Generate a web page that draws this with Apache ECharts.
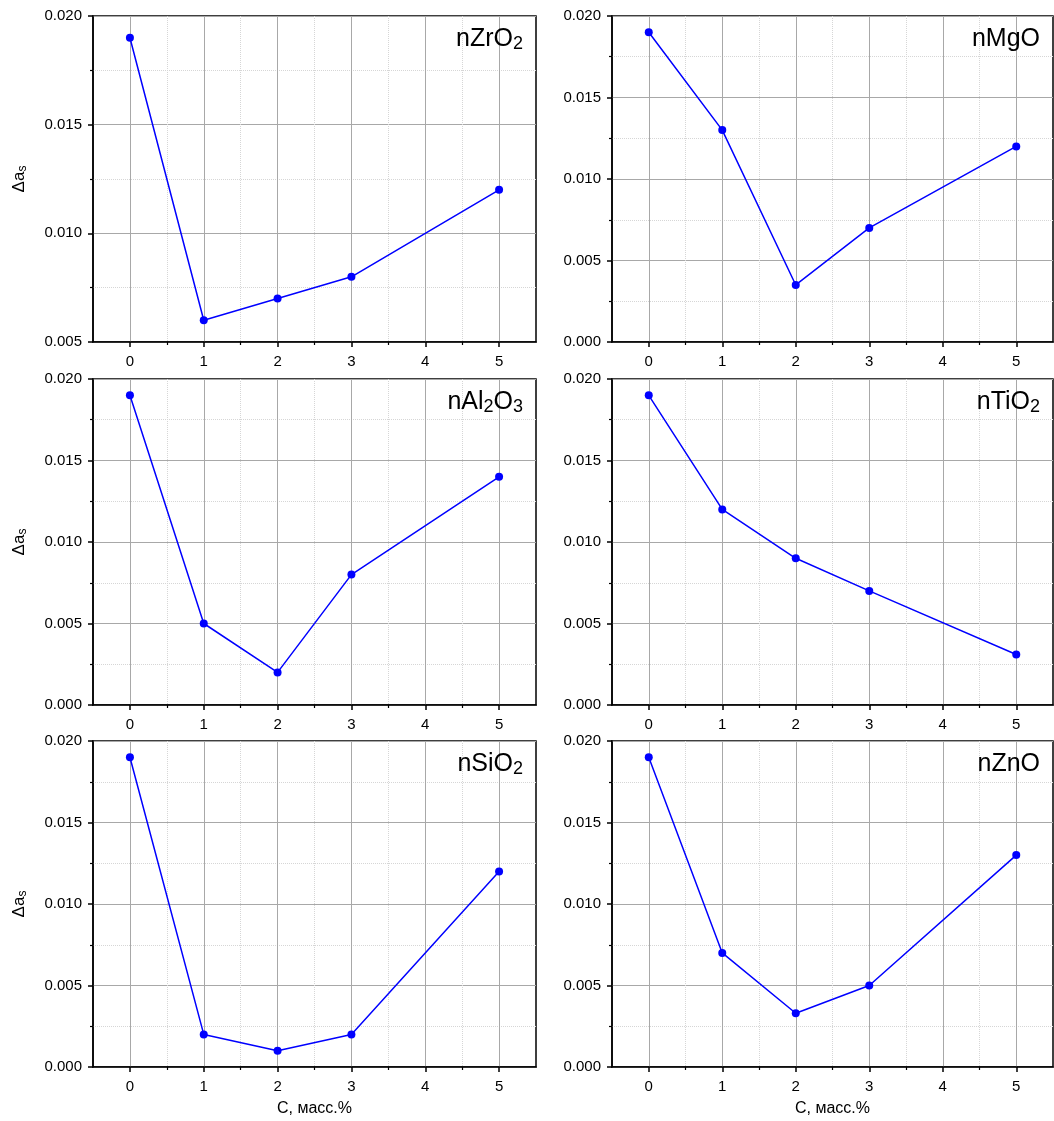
<!DOCTYPE html>
<html>
<head>
<meta charset="utf-8">
<script src="https://cdn.jsdelivr.net/npm/echarts@6/dist/echarts.min.js"></script>
<style>
  html, body { margin: 0; padding: 0; background: #fff; }
  #chart { width: 1054px; height: 1121px; }
</style>
</head>
<body>
<div id="chart"></div>
<script>
// Concentration of the nano-additive, mass %
const concentrations = [0, 1, 2, 3, 5];
const xTickValues = [0, 1, 2, 3, 4, 5];
const xMinorTickValues = [0.5, 1.5, 2.5, 3.5, 4.5];

// Δa_s for each additive
const zro2 = [0.019, 0.006, 0.007, 0.008, 0.012];
const mgo = [0.019, 0.013, 0.0035, 0.007, 0.012];
const al2o3 = [0.019, 0.005, 0.002, 0.008, 0.014];
const tio2 = [0.019, 0.012, 0.009, 0.007, 0.0031];
const sio2 = [0.019, 0.002, 0.001, 0.002, 0.012];
const zno = [0.019, 0.007, 0.0033, 0.005, 0.013];

// Panel labels (rich text with subscripts)
const panelLabels = [
  '{m|nZrO}{s|2}',
  '{m|nMgO}',
  '{m|nAl}{s|2}{m|O}{s|3}',
  '{m|nTiO}{s|2}',
  '{m|nSiO}{s|2}',
  '{m|nZnO}'
];
const panelData = [zro2, mgo, al2o3, tio2, sio2, zno];
const panelYMin = [0.005, 0, 0, 0, 0, 0];

const yAxisTitle = '{d|Δa}{s|s}';
const xAxisTitle = 'C, масс.%';

const FONT = 'Liberation Sans, Arial, sans-serif';
const W = 1054;

// Plot rectangles: [left, width] per column, top per row
const cols = [[93, 443], [612, 441]];
const rowTops = [16, 379, 741];
const plotH = 326;

const grids = [], xAxes = [], yAxes = [], series = [], titles = [];

panelData.forEach((vals, i) => {
  const col = i % 2, row = Math.floor(i / 2);
  const [left, width] = cols[col];
  const top = rowTops[row];
  grids.push({
    left: left, top: top, width: width, height: plotH,
    show: true, borderColor: '#000', borderWidth: 1.5,
    backgroundColor: 'transparent'
  });

  // main x axis: integer ticks, labels, solid grid
  xAxes.push({
    type: 'value', gridIndex: i, min: -0.5, max: 5.5, position: 'bottom',
    axisLine: { show: true, onZero: false, lineStyle: { color: '#000', width: 1.5 } },
    axisTick: { show: true, customValues: xTickValues, length: 5, lineStyle: { color: '#000', width: 1.5 } },
    axisLabel: { customValues: xTickValues, fontSize: 15, color: '#000', margin: 12, fontFamily: FONT },
    splitLine: { show: true, lineStyle: { color: '#a8a8a8', width: 1 } },
    name: row === 2 ? xAxisTitle : '',
    nameLocation: 'middle', nameGap: 34,
    nameTextStyle: { fontSize: 16, color: '#000', fontFamily: FONT }
  });
  // half-step x ticks with dotted grid
  xAxes.push({
    type: 'value', gridIndex: i, min: -0.5, max: 5.5, position: 'bottom',
    axisLine: { show: false, onZero: false },
    axisTick: { show: true, customValues: xMinorTickValues, length: 3, lineStyle: { color: '#000', width: 1.2 } },
    axisLabel: { show: false },
    splitLine: { show: true, lineStyle: { color: '#d6d6d6', width: 1, type: 'dotted' } }
  });

  yAxes.push({
    type: 'value', gridIndex: i, min: panelYMin[i], max: 0.02, interval: 0.005,
    axisLine: { show: true, onZero: false, lineStyle: { color: '#000', width: 1.5 } },
    axisTick: { show: true, length: 5, lineStyle: { color: '#000', width: 1.5 } },
    minorTick: { show: true, splitNumber: 2, length: 3, lineStyle: { color: '#000', width: 1.2 } },
    axisLabel: {
      formatter: v => v.toFixed(3), fontSize: 15, color: '#000', margin: 11, fontFamily: FONT
    },
    splitLine: { show: true, lineStyle: { color: '#a8a8a8', width: 1 } },
    minorSplitLine: { show: true, lineStyle: { color: '#d6d6d6', width: 1, type: 'dotted' } },
    name: col === 0 ? yAxisTitle : '',
    nameLocation: 'middle', nameGap: 64, nameRotate: 90,
    nameTextStyle: {
      color: '#000', fontFamily: FONT,
      rich: {
        d: { fontSize: 17, fontFamily: FONT, color: '#000', lineHeight: 20 },
        s: { fontSize: 12, fontFamily: FONT, color: '#000', verticalAlign: 'bottom', lineHeight: 12 }
      }
    }
  });

  series.push({
    type: 'line', xAxisIndex: 2 * i, yAxisIndex: i,
    data: concentrations.map((x, j) => [x, vals[j]]),
    symbol: 'circle', symbolSize: 8,
    lineStyle: { color: '#0000ff', width: 1.5 },
    itemStyle: { color: '#0000ff' },
    z: 5, animation: false
  });

  titles.push({
    text: panelLabels[i],
    right: W - (left + width) + 8, top: top + 4,
    textStyle: {
      fontWeight: 'normal',
      rich: {
        m: { fontSize: 25, fontFamily: FONT, color: '#000', fontWeight: 'normal', lineHeight: 28 },
        s: { fontSize: 18, fontFamily: FONT, color: '#000', fontWeight: 'normal', verticalAlign: 'bottom', lineHeight: 19 }
      }
    }
  });
});

const chart = echarts.init(document.getElementById('chart'), null, { renderer: 'canvas' });
chart.setOption({
  animation: false,
  backgroundColor: '#fff',
  title: titles,
  grid: grids,
  xAxis: xAxes,
  yAxis: yAxes,
  series: series
});
</script>
</body>
</html>
